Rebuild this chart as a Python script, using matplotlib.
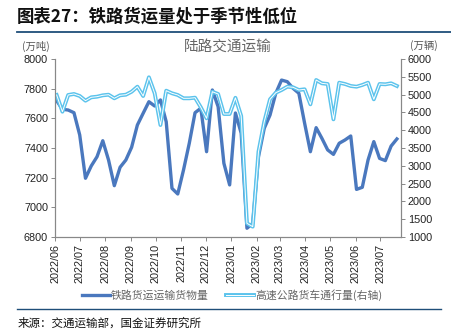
import numpy as np
import pandas as pd
import matplotlib
matplotlib.use("Agg")
import matplotlib.pyplot as plt
import matplotlib.dates as mdates
import matplotlib.patheffects as pe
from matplotlib.lines import Line2D

plt.rcParams['font.family'] = ['Noto Sans CJK SC', 'DejaVu Sans']

# DATA (weekly)
weeks = pd.date_range('2022-06-03', periods=60, freq='7D')
rail = [7719, 7661, 7656, 7638, 7488, 7196, 7279, 7341, 7449, 7319,
        7146, 7270, 7319, 7405, 7555, 7634, 7712, 7683, 7724, 7577,
        7128, 7090, 7252, 7432, 7638, 7668, 7375, 7791, 7679, 7297,
        7151, 7636, 7500, 6859, 6892, 7341, 7533, 7622, 7769, 7858,
        7847, 7802, 7769, 7567, 7375, 7537, 7465, 7387, 7357, 7432,
        7454, 7481, 7121, 7135, 7319, 7443, 7330, 7315, 7413, 7461]
highway = [4989, 4520, 4989, 5017, 4961, 4829, 4924, 4941, 4980, 4997,
           4896, 4980, 4997, 5081, 5222, 4961, 5486, 5037, 4146, 5110,
           5037, 4989, 4896, 4896, 4913, 4643, 4334, 5081, 5017, 4455,
           4455, 4910, 4400, 1385, 1290, 3396, 4239, 4868, 5053, 5129,
           5222, 5205, 5129, 5149, 4727, 5410, 5317, 5298, 4306, 5334,
           5298, 5242, 5222, 5270, 5334, 4868, 5298, 5289, 5317, 5242]
rail_label = '铁路货运运输货物量'
highway_label = '高速公路货车通行量(右轴)'

tick_font = dict(family='Liberation Sans', size=7.8)

fig = plt.figure(figsize=(4.51, 3.31), dpi=100)
ax = fig.add_axes([55/451, 1-237/331, (401-55)/451, (237-59)/331])
ax2 = ax.twinx()

ax.plot(weeks, rail, color='#4A78BE', lw=2.4, label=rail_label)
ax2.plot(weeks, highway, color='white', lw=0.7, label=highway_label,
         path_effects=[pe.Stroke(linewidth=2.8, foreground='#5BC3EC'), pe.Normal()])

ax.set_xlim(pd.Timestamp('2022-06-01'), pd.Timestamp('2023-07-26'))
ax.set_ylim(6800, 8000)
ax.set_yticks(np.arange(6800, 8001, 200))
ax2.set_ylim(1000, 6000)
ax2.set_yticks(np.arange(1000, 6001, 500))

ax.xaxis.set_major_locator(mdates.MonthLocator())
ax.xaxis.set_major_formatter(mdates.DateFormatter('%Y/%m'))

for a in (ax, ax2):
    for s in a.spines.values():
        s.set_color('#888888')
        s.set_linewidth(0.8)
    a.spines['top'].set_visible(False)
    a.tick_params(length=3, width=0.7, color='#888888', pad=2)
    for lab in a.get_yticklabels():
        lab.set_fontproperties(tick_font)
        lab.set_color('#222222')
for lab in ax.get_xticklabels():
    lab.set_fontproperties(tick_font)
    lab.set_color('#222222')
    lab.set_rotation(90)

# texts
fig.text(17/451, 1-17/331, '图表27：铁路货运量处于季节性低位', fontsize=12.5,
         fontweight='bold', va='center', ha='left', color='#111111')
fig.add_artist(Line2D([17/451, 1], [1-32/331]*2, color='#1F4E79', lw=1.3))
fig.text(228/451, 1-47/331, '陆路交通运输', fontsize=10.5, color='#666666',
         ha='center', va='center')
fig.text(22/451, 1-46/331, '(万吨)', fontsize=7.5, color='#555555', va='center')
fig.text(410/451, 1-46/331, '(万辆)', fontsize=7.5, color='#555555', va='center')

h1, l1 = ax.get_legend_handles_labels()
h2, l2 = ax2.get_legend_handles_labels()
fig.legend(h1 + h2, l1 + l2, loc='center', bbox_to_anchor=(232/451, 1-295/331),
           ncol=2, frameon=False, handlelength=2.6, columnspacing=1.6,
           handletextpad=0.1, prop={'size': 7.8}, labelcolor='#666666')

fig.add_artist(Line2D([17/451, 441/451], [1-309/331]*2, color='#1F4E79', lw=1.0))
fig.text(18/451, 1-323/331, '来源：交通运输部，国金证券研究所', fontsize=8.3,
         color='#111111', va='center', ha='left')

fig.savefig('out.png', dpi=100)
